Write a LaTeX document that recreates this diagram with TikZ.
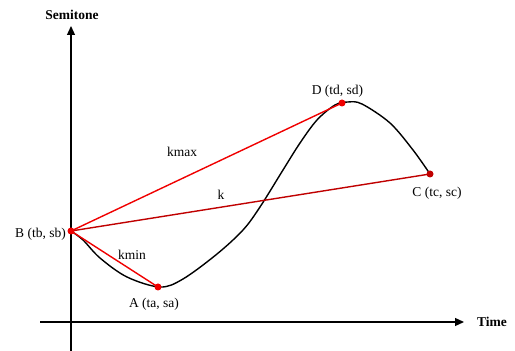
\documentclass[tikz,border=0pt]{standalone}
\usepackage{fontspec}
\setmainfont{Liberation Serif}
\usetikzlibrary{arrows.meta}
\definecolor{bright}{HTML}{F00000}
\definecolor{darkr}{HTML}{C00000}
\begin{document}
\begin{tikzpicture}[x=1pt,y=1pt,
  axis/.style={line width=1.3pt,-{Triangle[length=9pt,width=8pt]}},
  curve/.style={line width=1.4pt},
  seg/.style={line width=1.4pt,bright},
  dot/.style={circle,fill=bright,inner sep=0pt,minimum size=7pt},
  lbl/.style={font=\fontsize{13.5}{16}\selectfont,inner sep=0pt,anchor=base},
  axlbl/.style={font=\fontsize{13.5}{16}\selectfont\bfseries,inner sep=0pt,anchor=base}]
\useasboundingbox (0,0) rectangle (515,351);
\fill[white] (0,0) rectangle (515,351);
% axes
\coordinate (yb) at (71,0);
\coordinate (yt) at (71,325);
\coordinate (xl) at (40,29);
\coordinate (xr) at (464,29);
\draw[axis] (yb) -- (yt);
\draw[axis] (xl) -- (xr);
\node[axlbl] (sem) at (72,331) {Semitone};
\node[axlbl] (time) at (492,24) {Time};
% points
\coordinate (B) at (71,120);
\coordinate (A) at (158,64);
\coordinate (D) at (342,248);
\coordinate (C) at (430,177);
% curve
\draw[curve] plot[smooth,tension=0.55] coordinates {(71,120) (83,111) (100,93) (127,74) (160,64) (183,72) (217,97) (243,121) (260,144) (283,181) (300,208) (317,231) (335,246) (348,249) (362,247) (390,228) (413,201) (430,177)};
% red segments
\draw[seg] (B) -- (D);
\draw[seg] (B) -- (A);
\draw[line width=1.4pt,darkr] (B) -- (C);
\node[dot] (dB) at (B) {};
\node[dot] (dA) at (A) {};
\node[dot] (dD) at (D) {};
\node[dot,fill=darkr] (dC) at (C) {};
% labels
\node[lbl,anchor=base east] (lB) at (66,113) {B (tb, sb)};
\node[lbl] (lA) at (154,43) {A (ta, sa)};
\node[lbl] (lD) at (337.5,256) {D (td, sd)};
\node[lbl] (lC) at (437,154) {C (tc, sc)};
\node[lbl] (kmax) at (182,194) {kmax};
\node[lbl] (k) at (221,151) {k};
\node[lbl] (kmin) at (132,91) {kmin};
\end{tikzpicture}
\end{document}
